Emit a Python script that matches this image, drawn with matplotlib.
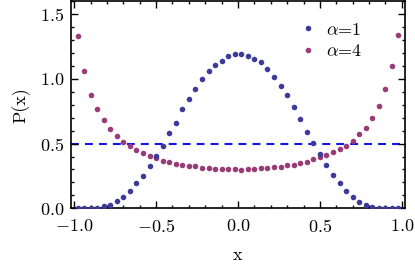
import numpy as np
import matplotlib.pyplot as plt
from matplotlib.ticker import MultipleLocator

plt.rcParams["font.family"] = "serif"
plt.rcParams["font.serif"] = ["cmr10"]
plt.rcParams["mathtext.fontset"] = "cm"
plt.rcParams["axes.formatter.use_mathtext"] = True

# sample positions
x = [-0.98, -0.94, -0.90, -0.86, -0.82, -0.78, -0.74, -0.70, -0.66, -0.62,
     -0.58, -0.54, -0.50, -0.46, -0.42, -0.38, -0.34, -0.30, -0.26, -0.22,
     -0.18, -0.14, -0.10, -0.06, -0.02, 0.02, 0.06, 0.10, 0.14, 0.18,
     0.22, 0.26, 0.30, 0.34, 0.38, 0.42, 0.46, 0.50, 0.54, 0.58,
     0.62, 0.66, 0.70, 0.74, 0.78, 0.82, 0.86, 0.90, 0.94, 0.98]

# alpha = 1
p_a1 = [0.005, 0.005, 0.005, 0.005, 0.015, 0.028, 0.056, 0.085, 0.133, 0.192,
        0.251, 0.325, 0.405, 0.485, 0.578, 0.660, 0.764, 0.846, 0.920, 0.995,
        1.063, 1.105, 1.140, 1.177, 1.192, 1.192, 1.179, 1.156, 1.128, 1.072,
        1.012, 0.943, 0.872, 0.782, 0.692, 0.592, 0.508, 0.423, 0.334, 0.259,
        0.192, 0.132, 0.087, 0.048, 0.025, 0.012, 0.005, 0.003, 0.003, 0.003]

# alpha = 4
p_a4 = [1.328, 1.062, 0.877, 0.769, 0.679, 0.610, 0.562, 0.512, 0.482, 0.454,
        0.427, 0.406, 0.392, 0.366, 0.354, 0.343, 0.338, 0.325, 0.325, 0.312,
        0.312, 0.302, 0.306, 0.300, 0.301, 0.296, 0.302, 0.302, 0.308, 0.312,
        0.316, 0.320, 0.334, 0.335, 0.351, 0.360, 0.377, 0.396, 0.412, 0.431,
        0.455, 0.485, 0.516, 0.573, 0.620, 0.700, 0.792, 0.918, 1.097, 1.341]

threshold = 0.5

fig = plt.figure(figsize=(4.15, 2.75), dpi=100)
ax = fig.add_axes([0.171, 0.2425, 0.805, 0.7535])

ax.axhline(threshold, color="#1414f0", lw=1.5, linestyle=(0, (3.8, 2.9)), zorder=1)
ax.plot(x, p_a1, "o", ms=4, color="#3d3b99", mec="none", label=r"$\alpha$=1", zorder=3)
ax.plot(x, p_a4, "o", ms=4, color="#993b76", mec="none", label=r"$\alpha$=4", zorder=2)

ax.set_xlim(-1.02, 1.02)
ax.set_ylim(0, 1.6)
ax.xaxis.set_major_locator(MultipleLocator(0.5))
ax.xaxis.set_minor_locator(MultipleLocator(0.1))
ax.yaxis.set_major_locator(MultipleLocator(0.5))
ax.yaxis.set_minor_locator(MultipleLocator(0.1))
ax.tick_params(which="both", direction="in", top=True, right=True, labelsize=13, width=1)
ax.tick_params(which="major", length=5)
ax.tick_params(which="minor", length=2.5)
ax.tick_params(axis="x", pad=7)
ax.tick_params(axis="y", pad=5)
for s in ax.spines.values():
    s.set_linewidth(1.2)

ax.set_xlabel("x", fontsize=13, labelpad=9)
ax.set_ylabel("P(x)", fontsize=13, labelpad=7)

ax.legend(loc="upper left", bbox_to_anchor=(0.66, 0.945), frameon=False, fontsize=13,
          handlelength=0.8, handletextpad=0.6, labelspacing=0.3, borderpad=0)

fig.savefig("out.png", dpi=100)
